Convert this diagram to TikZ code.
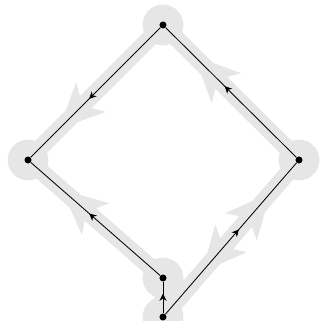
\documentclass[tikz,border=0pt]{standalone}
\usetikzlibrary{arrows.meta,decorations.markings,backgrounds}
\definecolor{halo}{HTML}{E6E6E6}

\begin{document}
\begin{tikzpicture}[
  dot/.style={circle, fill=black, inner sep=0pt, minimum size=5pt},
  blob/.style={circle, fill=halo, inner sep=0pt, minimum size=1.02cm},
  band/.style={draw=halo, line width=12pt},
  prop/.style={draw, line width=0.6pt, postaction={decorate},
     decoration={markings, mark=at position #1 with {\arrow{Stealth[length=5pt,width=5pt,inset=1.5pt]}}}},
  fat/.tip={Stealth[length=1.125cm,width=1.05cm,inset=0.3cm,line width=0pt]},
  fwd/.style={postaction={decorate},
     decoration={markings, mark=at position #1 with {\arrow[color=halo]{fat}}}},
  both/.style={postaction={decorate},
     decoration={markings, mark=at position 0.79 with {\arrow[color=halo]{fat}},
       mark=at position 0.285 with {\arrowreversed[color=halo]{fat}}}},
]
\useasboundingbox (0,0) rectangle (8.025,8.025);
% vertices
\node[dot] (vt) at (4.075,7.4)   {};
\node[dot] (vl) at (0.7,4.025)   {};
\node[dot] (vr) at (7.475,4.025) {};
\node[dot] (vm) at (4.075,1.075) {};
\node[dot] (vb) at (4.075,0.1)   {};
% lines
\draw[prop=0.55] (vt) -- (vl);
\draw[prop=0.55] (vr) -- (vt);
\draw[prop=0.55] (vm) -- (vl);
\draw[prop=0.62] (vb) -- (vm);
\draw[prop=0.56] (vb) -- (vr);
% shaded flow underneath
\begin{scope}[on background layer]
  \foreach \v in {vt,vl,vr,vm,vb}
    \node[blob] (h\v) at (\v.center) {};
  \draw[band, fwd=0.77] (vt.center) -- (vl.center);
  \draw[band, fwd=0.77] (vr.center) -- (vt.center);
  \draw[band, fwd=0.75] (vm.center) -- (vl.center);
  \draw[band] (vb.center) -- (vm.center);
  \draw[band, both] (vb.center) -- (vr.center);
\end{scope}
\end{tikzpicture}
\end{document}
